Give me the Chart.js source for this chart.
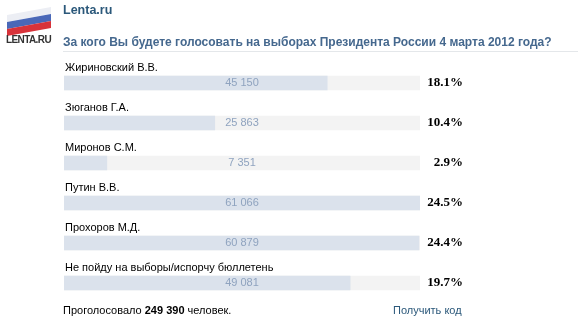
<!DOCTYPE html>
<html lang="ru">
<head>
  <meta charset="UTF-8">
  <title>Lenta.ru poll</title>
  <script src="https://cdn.jsdelivr.net/npm/chart.js"></script>
  <style>
    body { margin: 0; width: 578px; height: 324px; background: #fff; position: relative; overflow: hidden; font-family: "Liberation Sans", Arial, sans-serif; }
    #chart { position: absolute; left: 0; top: 0; }
    .abs { position: absolute; white-space: nowrap; }
    #site { left: 63px; top: 3px; font: bold 12.5px "Liberation Sans", sans-serif; color: #2b587a; }
    #question { left: 63px; top: 35px; font: bold 12px "Liberation Sans", sans-serif; color: #45688e; }
    #rule { left: 63px; top: 51px; width: 515px; height: 1px; background: #e4e7ea; }
    #total { left: 63px; top: 304px; font-size: 11px; color: #000; }
    #code { left: 393px; top: 304px; font-size: 11px; color: #2b587a; }
    .stripe { position: absolute; width: 44px; height: 7px; transform: skewY(-10deg); }
    #logo-text { left: 6px; top: 34px; font: bold 10px "Liberation Sans", sans-serif; letter-spacing: -0.6px; color: #333; }
  </style>
</head>
<body>
  <canvas id="chart" width="578" height="324"></canvas>

  <!-- logo -->
  <div class="stripe" style="left:7px;top:11px;background:#eceef4;"></div>
  <div class="stripe" style="left:7px;top:18px;background:#4a68b8;"></div>
  <div class="stripe" style="left:7px;top:25px;background:#d8333a;"></div>
  <div class="abs" id="logo-text">LENTA.RU</div>

  <div class="abs" id="site">Lenta.ru</div>
  <div class="abs" id="question">За кого Вы будете голосовать на выборах Президента России 4 марта 2012 года?</div>
  <div class="abs" id="rule"></div>
  <div class="abs" id="total">Проголосовало <b>249 390</b> человек.</div>
  <div class="abs" id="code">Получить код</div>

  <script>
    // poll data
    const candidates = ['Жириновский В.В.', 'Зюганов Г.А.', 'Миронов С.М.', 'Путин В.В.', 'Прохоров М.Д.', 'Не пойду на выборы/испорчу бюллетень'];
    const votes = [45150, 25863, 7351, 61066, 60879, 49081];
    const voteLabels = ['45 150', '25 863', '7 351', '61 066', '60 879', '49 081'];
    const percentLabels = ['18.1%', '10.4%', '2.9%', '24.5%', '24.4%', '19.7%'];

    const maxVotes = Math.max(...votes);
    const track = votes.map(() => maxVotes);

    // names above bars, counts in the middle, percents on the right
    const pollLabels = {
      id: 'pollLabels',
      afterDatasetsDraw(chart) {
        const ctx = chart.ctx;
        const area = chart.chartArea;
        const meta = chart.getDatasetMeta(1);
        ctx.save();
        meta.data.forEach((bar, i) => {
          const y = bar.y;
          ctx.textBaseline = 'middle';
          ctx.fillStyle = '#000';
          ctx.font = '11px "Liberation Sans", Arial, sans-serif';
          ctx.textAlign = 'left';
          ctx.fillText(candidates[i], area.left + 1, y - 15);

          ctx.fillStyle = '#8fa3bf';
          ctx.font = '11px "Liberation Sans", Arial, sans-serif';
          ctx.textAlign = 'center';
          ctx.fillText(voteLabels[i], (area.left + area.right) / 2, y);

          ctx.fillStyle = '#000';
          ctx.font = 'bold 13px "Liberation Serif", serif';
          ctx.textAlign = 'right';
          ctx.fillText(percentLabels[i], 463, y);
        });
        ctx.restore();
      }
    };

    new Chart(document.getElementById('chart'), {
      type: 'bar',
      data: {
        labels: candidates,
        datasets: [
          { data: track, backgroundColor: '#f3f3f3', barThickness: 14, order: 2 },
          { data: votes, backgroundColor: '#dbe2ec', barThickness: 14, order: 1 }
        ]
      },
      options: {
        indexAxis: 'y',
        responsive: false,
        animation: false,
        events: [],
        layout: { padding: { left: 64, right: 158, top: 63, bottom: 21 } },
        datasets: { bar: { grouped: false } },
        scales: {
          x: { display: false, min: 0, max: maxVotes },
          y: { display: false }
        },
        plugins: { legend: { display: false }, tooltip: { enabled: false } }
      },
      plugins: [pollLabels]
    });
  </script>
</body>
</html>
